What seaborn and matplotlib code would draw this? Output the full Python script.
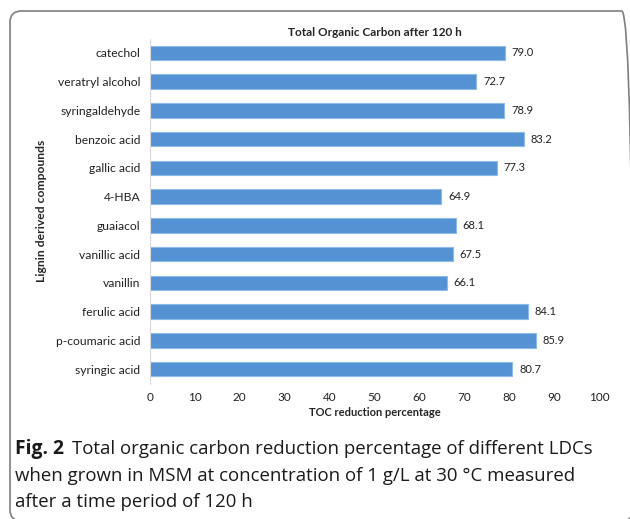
import matplotlib
matplotlib.use("Agg")
import matplotlib.pyplot as plt
import seaborn as sns
import pandas as pd
from matplotlib.patches import FancyBboxPatch

compounds = ["catechol", "veratryl alcohol", "syringaldehyde", "benzoic acid",
             "gallic acid", "4-HBA", "guaiacol", "vanillic acid", "vanillin",
             "ferulic acid", "p-coumaric acid", "syringic acid"]
toc = [79.0, 72.7, 78.9, 83.2, 77.3, 64.9, 68.1, 67.5, 66.1, 84.1, 85.9, 80.7]
xticks = [0, 10, 20, 30, 40, 50, 60, 70, 80, 90, 100]

df = pd.DataFrame({"compound": compounds, "toc": toc})

sns.set_theme(style="white")
plt.rcParams['font.family'] = ['Lato', 'DejaVu Sans']

W, H = 630, 519
fig = plt.figure(figsize=(6.3, 5.19), dpi=100)
ax = fig.add_axes([150/W, 1-383.5/H, 449/W, (383.5-38.5)/H])

sns.barplot(data=df, y="compound", x="toc", orient="h", color="#5592d3",
            width=0.5, edgecolor="#8dbbe9", linewidth=0.8, ax=ax, saturation=1)

for i, v in enumerate(toc):
    ax.text(v + 1.5, i, f"{v:.1f}", va="center", ha="left", fontsize=8, color="#222222")

ax.set_xlim(0, 100)
ax.set_xticks(xticks)
ax.set_xticklabels([str(t) for t in xticks], fontsize=8.5, color="#222222")
ax.tick_params(axis="y", labelsize=8.7, colors="#222222", length=0, pad=7)
ax.tick_params(axis="x", length=0, pad=6)
for s in ["top", "right", "bottom"]:
    ax.spines[s].set_visible(False)
ax.spines["left"].set_color("#d9d9d9")
ax.spines["left"].set_linewidth(0.8)
ax.set_ylabel("Lignin derived compounds", fontsize=8.7, fontweight="bold", labelpad=6)
ax.set_xlabel("TOC reduction percentage", fontsize=8, fontweight="bold", labelpad=3)
ax.set_title("Total Organic Carbon after 120 h", fontsize=8.5, fontweight="bold", pad=2)

# frame
x0, y0, x1, y1 = 10, 11, 633, 521
frame = FancyBboxPatch((x0/W, 1-y1/H), (x1-x0)/W, (y1-y0)/H,
                       boxstyle="round,pad=0,rounding_size=0.018",
                       mutation_aspect=W/H,
                       transform=fig.transFigure, fill=False,
                       edgecolor="#7f7f7f", linewidth=1.2, clip_on=False)
fig.patches.append(frame)

cap_font = ['Open Sans', 'DejaVu Sans']
fs = 13.4
fig.text(15/W, 1-449/H, "Fig. 2", fontsize=fs + 0.5, va="center", ha="left",
         family=cap_font, color="#1a1a1a", fontweight="bold")
fig.text(72/W, 1-449/H, "Total organic carbon reduction percentage of different LDCs",
         fontsize=fs, va="center", ha="left", family=cap_font, color="#1a1a1a")
fig.text(15/W, 1-476/H, "when grown in MSM at concentration of 1 g/L at 30 °C measured",
         fontsize=fs, va="center", ha="left", family=cap_font, color="#1a1a1a")
fig.text(15/W, 1-502/H, "after a time period of 120 h",
         fontsize=fs, va="center", ha="left", family=cap_font, color="#1a1a1a")

fig.savefig("out.png", dpi=100)
